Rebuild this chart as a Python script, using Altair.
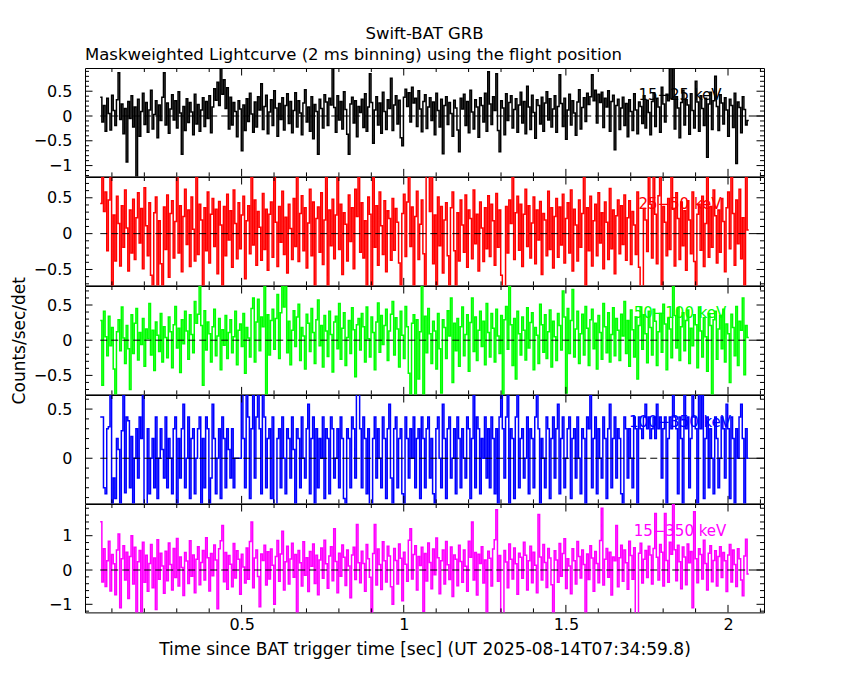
import altair as alt
import pandas as pd

# ---------------- data (values read/estimated from the reference) ----------------
T0 = 0.064          # start of first bin [s]
BIN = 0.005         # bin width used for this reconstruction [s]
X_DOMAIN = [0.017, 2.111]
X_MAJOR = [0.5, 1.0, 1.5, 2.0]
X_MINOR = [0.1, 0.2, 0.3, 0.4, 0.6, 0.7, 0.8, 0.9, 1.1, 1.2, 1.3, 1.4,
           1.6, 1.7, 1.8, 1.9, 2.1]

band_15_25 = [
    0.38, -0.12, 0.21, -0.31, 0.36, 0.05, -0.28, 0.42, 0.11, -0.19, 0.33, 0.87, -0.07, 0.24, -0.36, 0.15, -0.93, 0.29, -0.05, 0.41,
    -0.22, 0.18, -1.25, 0.34, -0.41, 0.09, 0.46, -0.17, 0.27, -0.33, 0.12, 0.52, -0.26, 0.03, 0.31, -0.44, 0.22, -0.09, 0.38, 0.87,
    -0.18, 0.26, -0.35, 0.14, 0.43, -0.08, 0.31, -0.24, 0.49, 0.06, -0.77, 0.19, -0.29, 0.35, -0.13, 0.27, 0.08, -0.38, 0.44, -0.16,
    0.23, -0.31, 0.12, 0.37, -0.21, 0.29, -0.05, 0.41, -0.34, 0.18, 0.55, 0.32, 0.68, 0.21, 0.98, 0.44, 0.73, 0.15, 0.57, -0.26,
    0.38, -0.18, 0.27, 0.09, -0.42, 0.31, 0.14, -0.70, 0.22, -0.29, 0.35, -0.11, 0.46, 0.04, -0.33, 0.28, -0.22, 0.39, 0.12, 0.65,
    -0.27, 0.19, 0.42, -0.36, 0.08, 0.33, -0.19, 0.51, 0.16, -0.41, 0.25, -0.07, 0.37, -0.28, 0.21, 0.45, -0.15, 0.29, -0.34, 0.11,
    0.47, -0.22, 0.31, 0.06, -0.38, 0.26, 0.53, -0.12, 0.18, -0.31, 0.39, -0.46, 0.23, 0.09, -0.77, 0.34, 0.15, -0.24, 0.43, 0.28,
    -0.19, 0.36, 0.22, 0.98, 0.17, -0.33, 0.41, -0.08, 0.29, -0.26, 0.49, 0.13, -0.37, -0.77, 0.24, 0.38, -0.14, 0.31, -0.42, 0.19,
    0.07, 0.34, -0.23, 0.45, -0.31, 0.18, 0.85, 0.27, -0.55, 0.12, 0.39, -0.18, 0.26, -0.35, 0.48, 0.09, -0.27, 0.33, 0.15, 0.76,
    -0.29, 0.22, 0.41, -0.16, 0.32, -0.44, -0.60, 0.38, 0.54, 0.19, 0.47, -0.12, 0.58, 0.26, 0.36, -0.21, 0.51, 0.14, -0.32, 0.29,
    0.43, -0.25, 0.18, 0.37, -0.09, 0.28, -0.38, 0.46, 0.11, -0.22, 0.34, -0.76, 0.21, 0.39, -0.17, 0.27, 0.05, -0.41, 0.32, 0.16,
    -0.28, -0.72, 0.36, 0.14, 0.44, -0.19, 0.29, -0.34, 0.52, 0.08, -0.26, 0.33, 0.18, -0.43, 0.37, 0.21, -0.12, 0.46, -0.31, 0.89,
    0.24, -0.17, 0.39, 0.11, 0.85, -0.29, -0.72, 0.31, 0.16, -0.38, 0.45, -0.09, 0.27, 0.41, -0.24, 0.13, 0.35, -0.33, 0.22, 0.48,
    -0.14, 0.29, -0.36, 0.60, 0.18, -0.27, 0.42, 0.07, -0.45, 0.33, 0.21, -0.16, 0.38, -0.31, 0.26, 0.49, -0.08, 0.35, -0.22, 0.14,
    0.41, -0.33, 0.19, 0.83, 0.25, -0.21, 0.36, -0.47, 0.12, 0.44, -0.18, 0.31, 0.06, -0.39, 0.28, 0.53, -0.26, 0.17, 0.37, -0.11,
    0.46, 0.23, 0.39, 0.83, 0.31, 0.52, -0.14, 0.44, 0.27, 0.48, -0.23, 0.36, 0.18, 0.51, -0.31, 0.29, 0.42, -0.68, 0.21, 0.34,
    -0.27, 0.16, 0.38, -0.19, 0.25, -0.42, 0.33, 0.09, -0.29, 0.45, 0.12, -0.36, 0.28, 0.19, -0.15, 0.41, -0.24, 0.32, 0.07, -0.38,
    0.29, 0.47, -0.21, 0.36, 0.18, -0.33, 0.58, 0.24, -0.12, 0.44, 0.31, 0.98, 0.35, 0.98, -0.26, 0.39, 0.16, -0.44, 0.27, 0.52,
    -0.18, 0.33, 0.22, -0.37, 0.45, 0.11, -0.24, 0.70, 0.28, -0.31, 0.41, 0.15, -0.19, 0.36, -0.83, 0.24, 0.48, -0.27, 0.31, 0.80,
    0.19, -0.29, 0.43, 0.26, -0.16, 0.37, 0.12, -0.41, 0.34, 0.21, -0.23, 0.46, -0.96, 0.28, 0.17, -0.34, 0.39, 0.13, -0.18, -0.09,
]

band_25_50 = [
    0.42, 0.85, 0.31, 0.58, -0.24, 0.47, 0.85, -0.80, 0.26, -0.38, 0.52, 0.14, -0.45, 0.39, -0.19, 0.61, 0.08, -0.52, 0.33, -0.27,
    0.48, -0.36, 0.22, 0.57, -0.13, 0.35, -0.49, 0.64, 0.11, -0.31, 0.43, -0.58, -0.80, 0.29, 0.51, -0.80, 0.18, -0.42, -0.80, 0.37,
    -0.22, 0.54, -0.61, 0.28, 0.46, -0.34, 0.17, 0.85, -0.27, 0.39, -0.53, 0.24, 0.62, -0.15, 0.33, -0.46, 0.51, 0.06, -0.38, 0.85,
    -0.29, 0.41, 0.19, -0.80, 0.36, -0.24, 0.58, -0.41, 0.27, 0.49, -0.18, 0.34, -0.56, 0.45, 0.12, -0.80, 0.38, -0.31, 0.55, -0.09,
    0.32, -0.47, 0.61, 0.14, -0.35, 0.43, -0.21, 0.26, 0.52, -0.63, 0.18, 0.39, -0.28, 0.85, -0.16, 0.47, -0.44, 0.31, 0.09, -0.37,
    0.56, -0.22, 0.34, -0.51, 0.27, 0.44, -0.33, 0.85, 0.16, -0.46, 0.38, -0.12, 0.59, -0.29, 0.23, -0.55, 0.41, 0.07, -0.36, 0.49,
    -0.18, 0.85, -0.39, 0.28, 0.53, -0.24, 0.36, -0.48, 0.15, 0.62, -0.31, 0.44, -0.80, 0.21, 0.37, -0.26, 0.57, -0.43, 0.19, 0.85,
    -0.80, 0.33, -0.17, 0.48, -0.35, 0.26, 0.85, -0.22, 0.41, -0.57, 0.29, 0.13, -0.38, 0.54, -0.11, 0.36, -0.49, 0.62, 0.24, 0.85,
    -0.26, 0.43, -0.34, 0.18, -0.80, 0.51, 0.27, -0.80, 0.85, -0.19, 0.39, -0.44, 0.58, 0.11, -0.29, 0.46, -0.53, 0.32, 0.21, -0.37,
    0.49, -0.23, 0.35, 0.16, -0.41, -0.80, 0.28, 0.55, -0.32, 0.44, 0.85, -0.18, 0.37, -0.80, 0.24, 0.59, -0.36, 0.13, 0.47, -0.28,
    -0.80, 0.85, 0.85, 0.31, 0.85, -0.42, 0.26, -0.80, 0.51, -0.17, 0.38, -0.55, 0.19, 0.43, -0.31, -0.80, 0.36, 0.58, -0.24, -0.80,
    0.29, -0.38, 0.47, 0.12, -0.26, 0.54, -0.47, 0.33, 0.21, -0.35, 0.61, -0.14, 0.27, -0.52, 0.44, 0.08, -0.39, 0.36, -0.21, 0.53,
    -0.32, 0.41, 0.18, -0.44, 0.56, -0.19, 0.33, -0.58, -0.80, -0.80, 0.38, -0.27, 0.47, 0.14, 0.85, -0.36, 0.29, 0.52, -0.23, 0.41,
    -0.46, 0.27, 0.62, -0.18, 0.39, -0.34, 0.15, 0.51, -0.42, 0.33, -0.09, 0.45, -0.57, 0.28, 0.19, -0.31, 0.59, -0.22, 0.36, -0.48,
    0.24, 0.49, -0.33, 0.37, -0.16, 0.55, -0.41, 0.21, 0.43, -0.27, 0.61, -0.52, 0.34, 0.12, -0.38, 0.47, -0.19, 0.28, 0.85, -0.80,
    0.36, -0.24, 0.52, -0.45, 0.18, 0.41, -0.31, 0.57, -0.13, 0.29, -0.49, 0.44, 0.16, -0.36, 0.63, -0.21, 0.33, -0.56, 0.25, 0.47,
    -0.28, 0.39, -0.15, 0.54, -0.37, 0.22, 0.46, -0.43, 0.31, 0.12, -0.29, 0.58, -0.47, -0.80, -0.80, 0.35, 0.19, -0.25, 0.85, 0.41,
    -0.34, 0.85, 0.27, -0.42, 0.53, 0.85, -0.80, 0.38, 0.16, -0.31, 0.49, -0.22, 0.85, 0.34, -0.45, 0.57, 0.21, -0.36, 0.44, -0.17,
    0.32, -0.51, 0.46, 0.19, -0.28, 0.58, -0.39, -0.80, 0.27, 0.41, -0.23, 0.52, -0.46, 0.14, 0.85, -0.33, 0.38, -0.19, 0.61, 0.25,
    -0.41, 0.33, -0.26, 0.49, 0.17, -0.53, 0.36, 0.58, -0.21, 0.85, 0.28, -0.44, 0.47, -0.14, 0.62, -0.35, 0.22, -0.80, 0.85, 0.05,
]

band_50_100 = [
    0.28, -0.64, 0.41, 0.05, -0.22, 0.34, -0.08, 0.18, -0.41, -0.82, 0.12, 0.29, -0.15, 0.47, 0.03, -0.33, 0.21, -0.12, -0.70, 0.36,
    -0.19, 0.24, 0.45, -0.28, 0.11, -0.06, 0.31, -0.37, 0.16, 0.02, 0.52, -0.21, 0.14, -0.43, 0.26, 0.07, -0.16, 0.38, -0.31, 0.19,
    0.04, -0.25, 0.33, 0.12, -0.39, 0.22, 0.48, -0.11, 0.17, -0.46, 0.29, -0.05, 0.41, 0.13, -0.27, 0.36, 0.08, -0.18, 0.55, 0.24,
    0.37, 0.82, 0.21, -0.64, 0.42, -0.14, 0.26, 0.09, -0.31, 0.19, 0.44, -0.22, 0.06, 0.31, -0.42, 0.15, -0.07, 0.35, -0.26, 0.11,
    0.29, -0.18, 0.05, 0.41, -0.35, 0.14, 0.23, -0.09, 0.38, -0.47, 0.18, 0.03, -0.24, 0.45, 0.60, -0.31, 0.26, 0.58, -0.15, 0.33,
    0.19, 0.82, -0.82, 0.36, -0.21, 0.28, 0.44, -0.13, 0.31, 0.65, -0.26, 0.39, 0.82, 0.47, 0.82, -0.18, 0.27, -0.35, 0.14, 0.42,
    -0.09, 0.33, 0.51, -0.29, 0.18, 0.06, -0.41, 0.37, 0.24, -0.16, 0.45, 0.11, -0.33, 0.29, 0.57, -0.08, 0.21, -0.38, 0.35, 0.13,
    -0.23, 0.41, 0.08, -0.45, 0.26, 0.34, -0.12, 0.52, -0.27, 0.17, 0.39, -0.36, 0.04, 0.28, -0.19, 0.46, 0.15, -0.52, 0.22, 0.31,
    -0.14, 0.38, 0.19, -0.31, 0.47, 0.02, -0.24, 0.33, 0.11, -0.42, 0.26, 0.53, -0.17, 0.35, -0.06, 0.21, 0.44, -0.29, 0.13, 0.37,
    0.55, -0.21, 0.32, 0.16, -0.38, 0.41, 0.07, -0.26, 0.48, 0.19, -0.47, -0.82, 0.24, 0.36, -0.82, 0.29, -0.55, 0.12, 0.82, -0.82,
    0.34, -0.18, 0.45, 0.09, -0.33, 0.27, 0.13, -0.41, 0.38, -0.12, -0.75, 0.29, 0.18, -0.26, 0.42, 0.06, 0.60, -0.60, 0.24, -0.15,
    0.31, -0.37, 0.19, 0.47, -0.22, 0.08, 0.36, -0.44, 0.25, 0.60, -0.16, 0.33, -0.29, 0.14, 0.41, -0.09, 0.27, -0.35, 0.52, 0.11,
    -0.24, 0.38, 0.17, -0.31, 0.44, 0.06, -0.19, 0.35, -0.82, 0.29, 0.48, -0.13, 0.82, 0.22, -0.36, 0.31, -0.55, 0.41, 0.09, -0.21,
    0.33, 0.14, -0.28, 0.46, -0.11, 0.25, 0.39, -0.42, 0.18, 0.07, -0.33, 0.51, 0.22, -0.17, 0.36, -0.26, 0.12, 0.43, -0.38, 0.27,
    0.05, -0.29, 0.38, 0.21, -0.14, 0.70, 0.33, -0.75, 0.45, -0.19, 0.28, 0.72, -0.24, 0.16, 0.41, -0.33, 0.09, 0.37, -0.21, 0.48,
    0.17, -0.36, 0.29, 0.44, -0.12, 0.24, -0.41, 0.35, 0.11, -0.27, 0.52, 0.19, -0.18, 0.39, -0.31, 0.08, 0.46, -0.22, 0.31, 0.14,
    -0.29, 0.37, 0.06, 0.55, -0.19, 0.28, -0.37, 0.43, 0.15, -0.24, 0.33, -0.55, 0.21, 0.47, -0.13, 0.36, 0.09, -0.32, 0.41, 0.18,
    -0.21, 0.44, 0.27, -0.36, 0.12, 0.38, -0.17, 0.51, 0.23, -0.42, 0.31, 0.16, -0.25, 0.82, 0.35, -0.11, 0.46, -0.29, 0.19, 0.39,
    -0.15, 0.28, 0.43, -0.33, 0.17, -0.08, 0.36, 0.22, -0.39, 0.47, 0.13, -0.24, 0.32, 0.05, -0.44, 0.38, 0.21, -0.82, 0.29, 0.41,
    -0.27, 0.16, 0.35, -0.12, 0.44, -0.31, 0.23, 0.09, -0.60, 0.37, 0.18, -0.22, 0.48, -0.36, 0.27, 0.14, 0.60, -0.49, 0.21, 0.04,
]

band_100_350 = [
    0.42, 0.42, -0.30, -0.36, 0.30, 0.32, 0.70, -0.50, -0.20, -0.41, 0.20, 0.09, -0.50, 0.28, 0.70, -0.35, 0.42, 0.38, -0.30, 0.22,
    -0.50, 0.00, 0.30, -0.20, 0.42, 0.20, 0.70, -0.50, -0.50, 0.30, -0.36, 0.00, 0.20, -0.30, 0.42, -0.41, 0.00, 0.30, 0.09, -0.20,
    0.42, -0.30, 0.20, 0.00, -0.36, 0.30, 0.42, -0.50, 0.20, -0.20, 0.30, 0.55, -0.30, 0.00, 0.42, -0.41, 0.20, 0.30, -0.36, 0.00,
    0.30, 0.42, -0.50, 0.20, -0.30, 0.42, 0.30, -0.50, -0.20, 0.55, 0.20, -0.36, 0.00, 0.30, -0.41, 0.42, 0.20, -0.30, 0.30, 0.09,
    -0.20, 0.30, -0.30, 0.00, 0.00, 0.00, 0.00, 0.70, 0.20, -0.30, 0.70, 0.42, -0.41, 0.30, 0.70, -0.20, 0.42, 0.70, 0.30, -0.36,
    0.70, 0.42, -0.30, 0.20, 0.30, -0.41, 0.42, -0.50, -0.50, 0.20, 0.30, -0.30, 0.42, 0.00, -0.36, 0.30, 0.20, -0.20, 0.42, 0.09,
    -0.50, 0.30, 0.20, -0.30, 0.42, 0.00, -0.20, 0.30, 0.55, -0.36, 0.20, 0.42, -0.50, 0.30, -0.30, 0.20, 0.00, 0.42, -0.41, 0.30,
    0.20, -0.36, 0.42, 0.30, -0.20, 0.00, 0.30, -0.30, 0.42, 0.20, -0.41, -0.50, 0.30, 0.20, -0.30, 0.42, 0.30, -0.20, 0.70, 0.70,
    0.30, -0.30, 0.42, 0.20, -0.36, 0.30, -0.50, -0.50, 0.20, 0.42, -0.20, 0.30, 0.00, -0.30, 0.42, 0.20, -0.41, 0.30, 0.55, -0.20,
    -0.50, 0.30, 0.42, -0.30, 0.20, 0.30, -0.36, -0.50, 0.42, 0.20, -0.20, 0.30, 0.00, 0.42, -0.30, 0.20, 0.30, -0.41, 0.42, 0.20,
    -0.30, 0.30, 0.42, -0.20, 0.20, -0.36, -0.50, 0.30, 0.42, 0.00, -0.30, 0.55, 0.20, -0.41, 0.30, 0.42, -0.20, 0.00, 0.30, -0.36,
    0.42, 0.20, -0.30, 0.30, 0.00, -0.20, 0.42, 0.30, -0.41, 0.20, 0.70, -0.30, 0.42, 0.30, -0.36, 0.20, 0.00, 0.42, -0.20, 0.30,
    -0.30, 0.42, 0.20, -0.36, 0.30, -0.50, 0.42, 0.70, 0.30, -0.20, 0.42, 0.70, -0.50, 0.30, 0.20, -0.41, 0.42, 0.70, -0.30, 0.20,
    0.30, -0.20, 0.00, 0.42, -0.36, 0.30, 0.20, -0.30, 0.42, 0.70, 0.30, -0.50, 0.20, 0.00, -0.30, 0.42, 0.30, -0.41, 0.20, 0.42,
    -0.20, 0.30, 0.55, -0.36, 0.20, 0.42, -0.30, 0.00, 0.30, 0.42, -0.41, 0.20, 0.30, -0.20, 0.42, 0.00, -0.36, 0.30, 0.20, -0.50,
    0.42, 0.30, 0.70, -0.30, 0.20, 0.42, -0.36, 0.30, 0.00, -0.20, 0.42, 0.20, -0.41, 0.30, 0.55, -0.30, 0.20, 0.42, -0.20, 0.30,
    0.20, -0.36, -0.50, 0.42, 0.30, -0.20, 0.30, 0.00, -0.30, 0.42, 0.30, -0.50, 0.42, 0.30, 0.20, 0.42, 0.55, 0.30, 0.42, 0.20,
    0.30, 0.42, 0.20, 0.55, 0.30, 0.42, -0.20, 0.30, 0.42, -0.50, 0.20, 0.42, 0.30, 0.70, 0.42, 0.30, -0.36, 0.42, 0.20, -0.50,
    0.70, 0.30, 0.42, -0.30, 0.20, 0.70, 0.42, 0.30, -0.50, 0.70, 0.30, 0.70, -0.41, 0.20, 0.42, -0.30, 0.30, 0.00, -0.36, 0.42,
    0.20, -0.30, 0.00, 0.42, 0.30, -0.20, 0.55, 0.30, -0.41, 0.42, 0.20, -0.50, 0.30, 0.00, 0.42, 0.55, 0.20, -0.50, 0.30, 0.00,
]

band_15_350 = [
    1.41, -0.35, 0.62, -0.48, 0.27, 0.84, -0.61, 0.45, 0.18, -0.72, 0.58, 1.05, -1.10, 0.33, 0.71, -0.29, 0.52, -0.83, 0.39, 1.00,
    -0.41, 0.66, -1.30, 0.24, 0.57, -1.30, 0.81, -0.36, 0.43, -0.62, 0.19, 0.74, -0.52, 0.35, -1.15, 0.88, -0.27, 0.49, 0.12, -0.68,
    0.55, -0.31, 0.79, 0.16, -0.58, 0.63, -0.22, 0.92, -0.47, 0.38, 0.07, -0.74, 0.51, 0.26, -0.39, 0.85, -0.18, 0.44, -0.66, 0.31,
    0.68, -0.43, 0.22, 0.57, -0.29, 0.94, 0.36, -0.61, 0.48, -0.17, 0.73, 0.29, -1.13, 0.62, 0.85, 1.30, -0.34, 0.51, -0.56, 0.42,
    0.17, -0.49, 0.77, -0.23, 0.56, 0.31, -0.71, 0.46, 0.09, -0.38, 0.64, -0.27, 0.83, 1.40, -0.52, 0.35, 0.58, -0.19, -1.07, 0.47,
    0.28, 0.72, -0.44, 0.53, -0.26, 0.61, 0.14, -1.00, 0.39, 0.86, -0.33, 0.47, 1.13, -0.58, 0.24, 0.69, -0.41, 0.32, 0.78, -0.21,
    0.45, -1.30, 0.57, 0.21, -0.47, 0.82, -0.15, 0.36, -0.63, 0.54, 0.11, 0.76, -0.39, 0.43, -0.72, 0.29, 0.64, -0.24, 0.87, 0.18,
    -0.53, 0.41, 0.68, -0.31, 1.20, 0.25, -0.66, 0.49, -0.18, 0.73, 0.37, -0.45, 0.58, 0.12, -0.81, 0.44, 0.66, -0.28, 1.33, 0.21,
    -0.37, 0.55, 0.19, -0.62, 0.74, 0.33, -0.21, -1.30, 0.48, 1.33, -0.44, 0.61, 0.16, -0.57, 0.82, 0.27, -0.35, 0.69, 0.41, -0.49,
    -1.00, 0.63, 0.28, -0.41, 0.76, 0.34, -0.90, 0.52, 0.17, -0.33, 0.87, 1.20, -0.26, 0.45, 0.71, -0.58, 0.39, 0.13, 0.66, -1.20,
    0.48, -0.32, 0.79, 0.22, -0.55, 0.61, -0.14, 0.93, 0.36, -0.69, 0.27, 0.58, -0.41, 0.83, 0.15, -0.28, 0.67, -0.77, 0.44, 0.31,
    -0.46, 0.72, 0.25, -0.36, 0.58, 0.11, -0.62, 0.84, 0.37, 1.40, -0.29, 0.51, -0.73, 0.46, 0.19, 0.68, -0.38, 0.29, -1.30, 0.55,
    0.34, -0.47, 0.61, 0.88, 1.76, -0.33, 0.42, -1.30, -1.30, 0.57, 0.23, -0.52, 0.76, 0.31, -0.26, 0.64, 0.18, -0.71, 0.49, 0.37,
    -0.24, 0.81, 0.43, -0.58, 0.27, 0.69, -0.37, 0.52, 0.14, -0.66, 1.62, 0.38, -0.29, 0.74, 0.22, -0.51, 0.63, 0.35, -0.43, -1.30,
    0.56, 0.29, -0.36, 0.77, -0.18, 0.48, 0.91, -0.54, 0.33, 0.12, -0.69, 0.62, 0.27, -0.41, 0.83, 0.39, -0.23, 0.58, 0.16, -1.30,
    0.47, -0.28, 0.71, 0.35, -0.62, 0.54, 0.19, -0.37, 0.86, 1.80, -0.44, 0.31, 0.63, -0.21, 0.52, -0.73, 0.38, 0.27, 1.30, -0.49,
    0.36, 0.72, -0.33, 0.58, 0.21, -0.56, 0.84, 0.42, -0.27, 0.65, -1.30, -1.30, 0.49, 0.78, -0.38, 0.31, 0.57, -0.22, 0.69, 0.44,
    -0.41, 0.63, 1.65, 0.37, -0.29, 0.74, 0.52, -0.47, 1.65, 0.28, -0.36, 0.81, 0.46, 2.10, 0.59, -0.31, 0.72, 0.24, -0.55, 0.67,
    0.38, -0.43, 0.76, 0.21, 0.54, -1.10, 1.70, 0.33, -0.37, 0.62, 0.45, -0.26, 0.87, 0.19, -0.58, 0.49, 0.71, -0.34, 0.28, 0.56,
    -0.47, 0.39, 0.68, -0.22, 0.51, 0.27, -0.63, 0.44, 0.74, -0.35, 0.58, 0.16, -0.48, 0.62, 0.33, -0.29, -0.75, 0.41, 0.90, -0.12,
]

PANELS = [
    # values, colour, label, y-domain, major ticks, minor ticks
    (band_15_25, "#000000", "15\u221225 keV", [-1.218, 0.968], [-1.0, -0.5, 0.0, 0.5],
     [-1.2, -1.1, -0.9, -0.8, -0.7, -0.6, -0.4, -0.3, -0.2, -0.1, 0.1, 0.2, 0.3, 0.4, 0.6, 0.7, 0.8, 0.9]),
    (band_25_50, "#ff0000", "25\u221250 keV", [-0.722, 0.79], [-0.5, 0.0, 0.5],
     [-0.7, -0.6, -0.4, -0.3, -0.2, -0.1, 0.1, 0.2, 0.3, 0.4, 0.6, 0.7]),
    (band_50_100, "#00ff00", "50\u2212100 keV", [-0.77, 0.77], [-0.5, 0.0, 0.5],
     [-0.7, -0.6, -0.4, -0.3, -0.2, -0.1, 0.1, 0.2, 0.3, 0.4, 0.6, 0.7]),
    (band_100_350, "#0000ff", "100\u2212350 keV", [-0.459, 0.643], [0.0, 0.5],
     [-0.4, -0.3, -0.2, -0.1, 0.1, 0.2, 0.3, 0.4, 0.6]),
    (band_15_350, "#ff00ff", "15\u2212350 keV", [-1.236, 1.924], [-1.0, 0.0, 1.0],
     [-1.2, -0.8, -0.6, -0.4, -0.2, 0.2, 0.4, 0.6, 0.8, 1.2, 1.4, 1.6, 1.8]),
]

TITLE_TOP = "Swift-BAT GRB"
TITLE_SUB = "Maskweighted Lightcurve (2 ms binning) using the flight position"
X_TITLE = "Time since BAT trigger time [sec] (UT 2025-08-14T07:34:59.8)"
Y_TITLE = "Counts/sec/det"

# ---------------- layout / style ----------------
W = 679
H = 108.4
FONT = "DejaVu Sans"
MAJ = 7.5
MIN = 4
XS = alt.Scale(domain=X_DOMAIN, nice=False, zero=False)


def tick_layers(ys, xaxis, yaxis, ymaj, ymin):
    layers = []
    for vals, ln in ((X_MAJOR, MAJ), (X_MINOR, MIN)):
        d = pd.DataFrame({"t": vals})
        base = alt.Chart(d).mark_rule(color="black", strokeWidth=1)
        layers.append(base.encode(x=alt.X("t:Q", scale=XS, axis=xaxis),
                                  y=alt.value(0), y2=alt.value(ln)))
        layers.append(base.encode(x=alt.X("t:Q", scale=XS, axis=xaxis),
                                  y=alt.value(H), y2=alt.value(H - ln)))
    for vals, ln in ((ymaj, MAJ), (ymin, MIN)):
        d = pd.DataFrame({"v": vals})
        base = alt.Chart(d).mark_rule(color="black", strokeWidth=1)
        layers.append(base.encode(y=alt.Y("v:Q", scale=ys, axis=yaxis),
                                  x=alt.value(0), x2=alt.value(ln)))
        layers.append(base.encode(y=alt.Y("v:Q", scale=ys, axis=yaxis),
                                  x=alt.value(W), x2=alt.value(W - ln)))
    return layers


charts = []
n_p = len(PANELS)
for k, (vals, color, label, ydom, ymaj, ymin) in enumerate(PANELS):
    n = len(vals)
    t_end = T0 + BIN * n
    times = [T0 + BIN * i for i in range(n)] + [t_end]
    df = pd.DataFrame({"t": times, "v": list(vals) + [vals[-1]]})
    ys = alt.Scale(domain=ydom, nice=False, zero=False)

    last = k == n_p - 1
    xaxis = alt.Axis(values=X_MAJOR, format="~g", ticks=False, domain=False, grid=False,
                     labelPadding=4, title=X_TITLE, titlePadding=9) if last else None
    yaxis = alt.Axis(values=ymaj, format="~g", ticks=False, domain=False, grid=False,
                     labelPadding=13, title=(Y_TITLE if k == 2 else None), titlePadding=5)

    txt = alt.Chart(pd.DataFrame({"lab": [label]})).mark_text(
        color=color, font=FONT, fontSize=15, align="center", baseline="middle"
    ).encode(x=alt.value(595), y=alt.value(27), text="lab:N")

    line = alt.Chart(df).mark_line(interpolate="step-after", color=color, strokeWidth=1.5, clip=True).encode(
        x=alt.X("t:Q", scale=XS, axis=xaxis),
        y=alt.Y("v:Q", scale=ys, axis=yaxis),
    )

    zero = alt.Chart(pd.DataFrame({"t": [T0], "t2": [t_end], "v": [0.0]})).mark_rule(
        color="black", strokeWidth=1, strokeDash=[7, 4]
    ).encode(x=alt.X("t:Q", scale=XS, axis=xaxis), x2="t2:Q", y=alt.Y("v:Q", scale=ys, axis=yaxis))

    tail = alt.Chart(pd.DataFrame({"t": [t_end], "t2": [X_DOMAIN[1]], "v": [0.0]})).mark_rule(
        color="black", strokeWidth=1
    ).encode(x=alt.X("t:Q", scale=XS, axis=xaxis), x2="t2:Q", y=alt.Y("v:Q", scale=ys, axis=yaxis))

    layer = alt.layer(txt, line, zero, tail, *tick_layers(ys, xaxis, yaxis, ymaj, ymin)).properties(width=W, height=H)
    if k == 0:
        layer = layer.properties(title=alt.TitleParams(TITLE_SUB, anchor="start", frame="group", offset=4))
    charts.append(layer)

chart = alt.vconcat(*charts, spacing=0, bounds="flush").properties(
    title=alt.TitleParams(TITLE_TOP, anchor="middle", frame="group", offset=4),
    padding={"left": 1, "top": 18, "right": 5, "bottom": 5},
    background="white",
).configure_view(stroke="black", strokeWidth=1).configure_axis(
    labelFont=FONT, labelFontSize=16, labelColor="black",
    titleFont=FONT, titleFontSize=17, titleFontWeight="normal", titleColor="black",
).configure_title(font=FONT, fontSize=16.5, fontWeight="normal", color="black")

chart.save("out.html", embed_options={"renderer": "svg", "actions": False})
